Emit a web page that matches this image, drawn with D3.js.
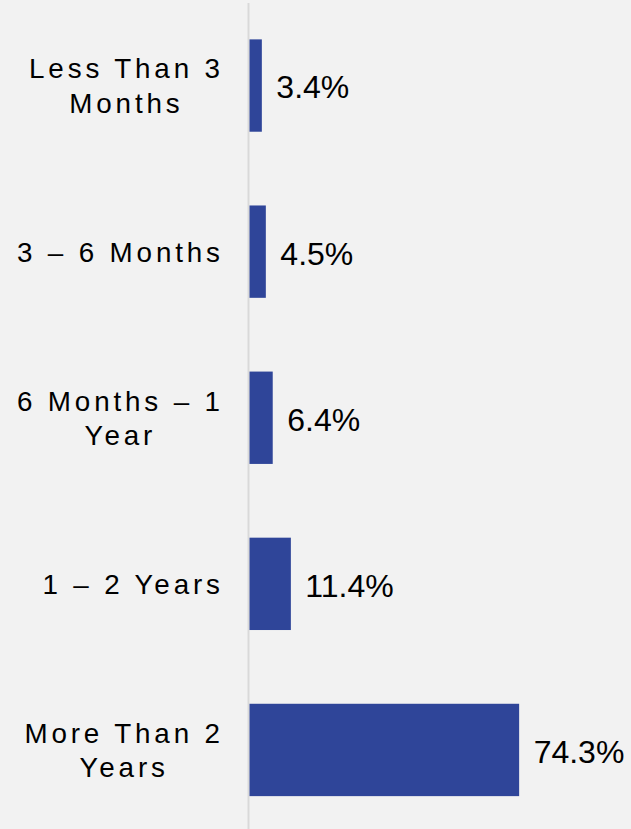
<!DOCTYPE html>
<html>
<head>
<meta charset="utf-8">
<script src="https://cdn.jsdelivr.net/npm/d3@7"></script>
<style>
  html, body { margin: 0; padding: 0; background: #f2f2f2; }
  svg { display: block; }
  text { font-family: "Liberation Sans", Arial, sans-serif; fill: #000; }
</style>
</head>
<body>
<svg id="chart" width="631" height="829"></svg>
<script>
// Duration categories (each entry is the wrapped lines of the label)
const categories = [
  ["Less Than 3", "Months"],
  ["3 \u2013 6 Months"],
  ["6 Months \u2013 1", "Year"],
  ["1 \u2013 2 Years"],
  ["More Than 2", "Years"]
];
const values = [3.4, 4.5, 6.4, 11.4, 74.3];
const valueLabels = ["3.4%", "4.5%", "6.4%", "11.4%", "74.3%"];

const W = 631, H = 829;
const axisX = 249.5;
const labelRight = 220;

const svg = d3.select("#chart");
svg.append("rect").attr("width", W).attr("height", H).attr("fill", "#f2f2f2");

const keys = categories.map((c, i) => i);

const y = d3.scaleBand()
  .domain(keys)
  .range([2.5, 833])
  .paddingInner(0.444)
  .paddingOuter(0.222);

const x = d3.scaleLinear()
  .domain([0, 100])
  .range([axisX, axisX + 362.9]);

// category axis line
svg.append("line")
  .attr("x1", axisX - 1).attr("x2", axisX - 1)
  .attr("y1", 3).attr("y2", H)
  .attr("stroke", "#d9d9d9")
  .attr("stroke-width", 2);

// bars
svg.append("g").selectAll("rect")
  .data(values)
  .join("rect")
  .attr("x", x(0))
  .attr("y", (d, i) => y(i))
  .attr("width", d => x(d) - x(0))
  .attr("height", y.bandwidth())
  .attr("fill", "#2f4599");

// value labels
svg.append("g").selectAll("text")
  .data(values)
  .join("text")
  .attr("x", d => x(d) + 14.5)
  .attr("y", (d, i) => y(i) + y.bandwidth() / 2 + 12.9)
  .attr("font-size", 32)
  .text((d, i) => valueLabels[i]);

// category labels: lines centred on each other, block right-aligned
const fs = 27.8, ls = 3.85, lineH = 34.3, capH = fs * 0.716;
const catG = svg.append("g");
categories.forEach((lines, i) => {
  const g = catG.append("g");
  const cy = y(i) + y.bandwidth() / 2;
  const n = lines.length;
  const firstBase = cy + capH / 2 - (n - 1) * lineH / 2;
  const texts = lines.map((t, j) => g.append("text")
    .attr("font-size", fs)
    .attr("letter-spacing", ls)
    .attr("y", firstBase + j * lineH)
    .text(t));
  const widths = texts.map(t => t.node().getComputedTextLength() - ls);
  const maxW = d3.max(widths);
  texts.forEach((t, j) => {
    t.attr("x", labelRight - maxW + (maxW - widths[j]) / 2);
  });
});
</script>
</body>
</html>
